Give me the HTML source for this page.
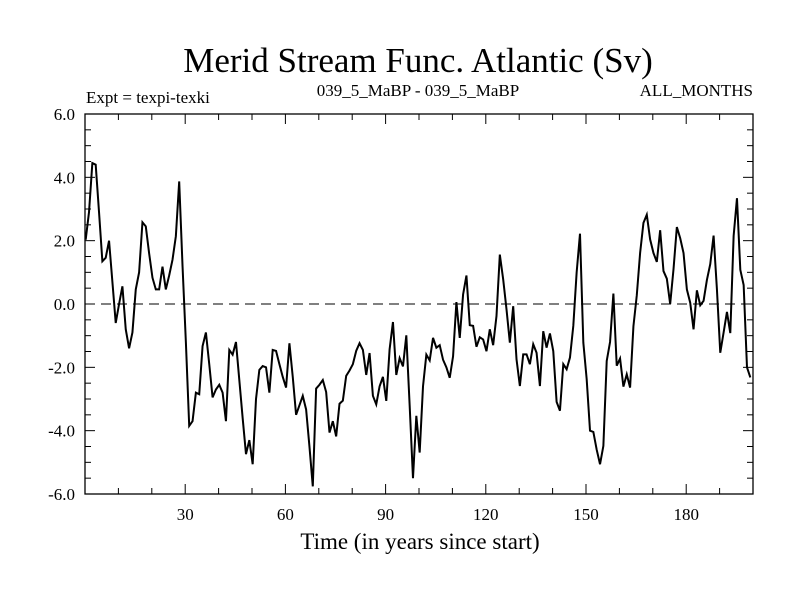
<!DOCTYPE html>
<html><head><meta charset="utf-8"><style>
html,body{margin:0;padding:0;background:#fff;}
svg{display:block;font-family:"Liberation Serif",serif;}
</style></head><body>
<svg id="chart" width="800" height="600" viewBox="0 0 800 600">
<rect width="800" height="600" fill="#fff"/>
<text x="418" y="72" text-anchor="middle" font-size="35">Merid Stream Func. Atlantic (Sv)</text>
<text x="86" y="103" font-size="17">Expt = texpi-texki</text>
<text x="418" y="96" text-anchor="middle" font-size="17">039_5_MaBP - 039_5_MaBP</text>
<text x="753" y="96" text-anchor="end" font-size="17">ALL_MONTHS</text>
<text x="420" y="549" text-anchor="middle" font-size="23">Time (in years since start)</text>
<g id="axes"></g>
<g id="plot"></g>
</svg>
<script>
const yTicks = [-6, -4, -2, 0, 2, 4, 6];
const xTicks = [30, 60, 90, 120, 150, 180];
const xStart = 0.2;
const values = [
2.03,2.9,4.45,4.4,2.9,1.35,1.46,2.0,0.7,-0.6,
0.0,0.56,-0.8,-1.4,-0.9,0.46,1.0,2.58,2.45,1.6,
0.83,0.46,0.46,1.18,0.46,0.9,1.4,2.14,3.87,1.2,
-1.2,-3.85,-3.7,-2.8,-2.85,-1.33,-0.9,-1.9,-2.95,-2.7,
-2.55,-2.8,-3.7,-1.45,-1.6,-1.2,-2.4,-3.6,-4.74,-4.3,
-5.06,-3.0,-2.08,-1.96,-2.0,-2.8,-1.45,-1.48,-1.9,-2.3,
-2.64,-1.24,-2.3,-3.5,-3.2,-2.9,-3.33,-4.5,-5.76,-2.67,
-2.55,-2.4,-2.78,-4.06,-3.7,-4.18,-3.15,-3.05,-2.27,-2.1,
-1.9,-1.48,-1.24,-1.45,-2.24,-1.55,-2.9,-3.17,-2.6,-2.3,
-3.06,-1.43,-0.57,-2.24,-1.71,-1.97,-0.99,-3.2,-5.5,-3.53,
-4.69,-2.6,-1.6,-1.78,-1.07,-1.38,-1.3,-1.76,-2.0,-2.33,
-1.65,0.06,-1.07,0.3,0.9,-0.67,-0.69,-1.35,-1.05,-1.12,
-1.49,-0.8,-1.3,-0.38,1.56,0.78,-0.17,-1.22,-0.07,-1.75,
-2.59,-1.59,-1.59,-1.9,-1.27,-1.54,-2.59,-0.86,-1.38,-0.93,
-1.49,-3.09,-3.37,-1.9,-2.06,-1.69,-0.69,1.0,2.22,-1.22,
-2.37,-4.0,-4.04,-4.6,-5.06,-4.48,-1.8,-1.2,0.33,-1.95,
-1.72,-2.61,-2.22,-2.64,-0.7,0.27,1.61,2.56,2.82,2.04,
1.61,1.33,2.33,1.04,0.8,0.0,1.1,2.43,2.08,1.61,
0.46,0.04,-0.8,0.43,-0.04,0.1,0.76,1.26,2.16,0.46,
-1.54,-0.9,-0.25,-0.92,2.15,3.34,1.08,0.6,-2.0,-2.32
];
const L=85,R=753,T=114,B=494;
const xMin=0,xMax=200,yMin=-6,yMax=6;
const sx=v=>L+(v-xMin)/(xMax-xMin)*(R-L);
const sy=v=>B-(v-yMin)/(yMax-yMin)*(B-T);
const NS="http://www.w3.org/2000/svg";
const axes=document.getElementById('axes');
const plot=document.getElementById('plot');
function mk(tag,attrs,parent){const e=document.createElementNS(NS,tag);for(const k in attrs)e.setAttribute(k,attrs[k]);parent.appendChild(e);return e;}
let frame=mk('rect',{x:L,y:T,width:R-L,height:B-T,fill:'none',stroke:'#000','stroke-width':1.3},axes);


// y minor/major ticks
for(let v=yMin;v<=yMax+1e-9;v+=0.5){
  const y=sy(v);const major=Math.abs(v/2-Math.round(v/2))<1e-9;const len=major?10:6;
  let t1=mk('line',{x1:L,x2:L+len,y1:y,y2:y,stroke:'#000','stroke-width':1},axes);
  
  
  let t2=mk('line',{x1:R,x2:R-len,y1:y,y2:y,stroke:'#000','stroke-width':1},axes);
  
  
}
yTicks.forEach(v=>{
  const t=mk('text',{x:75,y:sy(v)+6,'text-anchor':'end','font-size':17},axes);
  t.textContent=v.toFixed(1);
  
  
});
for(let v=10;v<xMax;v+=10){
  const x=sx(v);const major=v%30===0;const len=major?10:6;
  let t1=mk('line',{x1:x,x2:x,y1:B,y2:B-len,stroke:'#000','stroke-width':1},axes);
  
  
  let t2=mk('line',{x1:x,x2:x,y1:T,y2:T+len,stroke:'#000','stroke-width':1},axes);
  
  
}
xTicks.forEach(v=>{
  const t=mk('text',{x:sx(v),y:520,'text-anchor':'middle','font-size':17},axes);
  t.textContent=String(v);
  
  
});
const zl=mk('line',{x1:L,x2:R,y1:sy(0),y2:sy(0),stroke:'#000','stroke-width':1,'stroke-dasharray':'10,6'},plot);


const pts=values.map((v,i)=>sx(xStart+i).toFixed(2)+','+sy(v).toFixed(2)).join(' ');
const line=mk('polyline',{points:pts,fill:'none',stroke:'#000','stroke-width':2,'stroke-linejoin':'miter'},plot);


</script>
</body></html>
